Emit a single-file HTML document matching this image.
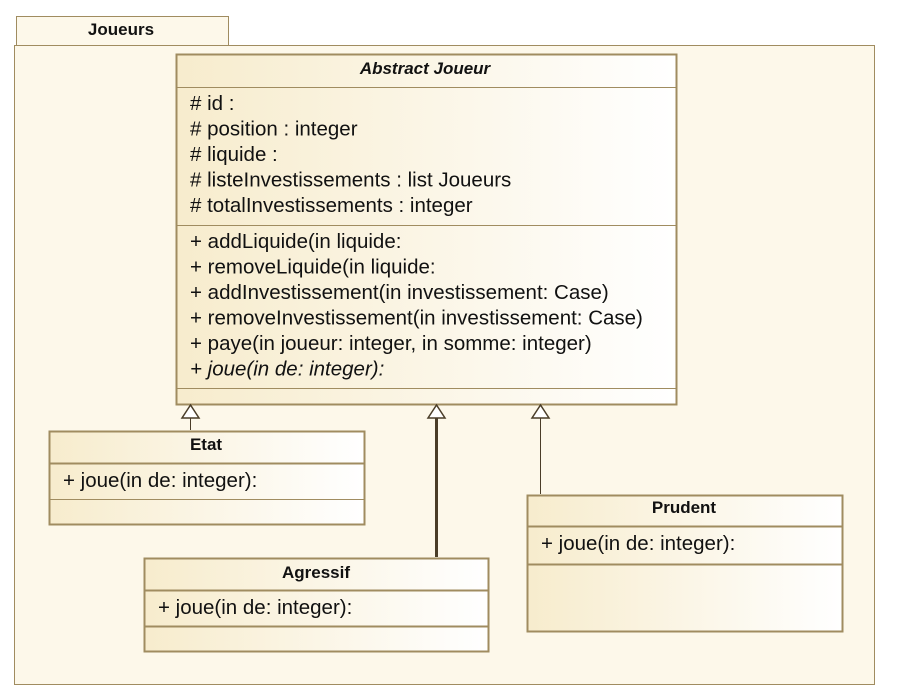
<!DOCTYPE html>
<html><head><meta charset="utf-8"><style>
html,body{margin:0;padding:0;background:#fff;}
svg{display:block;font-family:"Liberation Sans",sans-serif;}
</style></head><body>
<svg width="897" height="697" viewBox="0 0 897 697" xmlns="http://www.w3.org/2000/svg">
<defs>
<linearGradient id="g" x1="0" y1="0" x2="1" y2="0">
<stop offset="0" stop-color="#f7eccd"/><stop offset="1" stop-color="#ffffff"/>
</linearGradient>
</defs>
<rect x="16.5" y="16.5" width="212" height="29" fill="#fdf8ea" stroke="#a08c60"/>
<text x="121" y="35" font-size="17" font-weight="bold" text-anchor="middle" fill="#111">Joueurs</text>
<rect x="14.5" y="45.5" width="860" height="639" fill="#fdf8ea" stroke="#a08c60"/>

<!-- Abstract Joueur -->
<rect x="176.5" y="54.5" width="500" height="350" fill="url(#g)" stroke="#a08c60" stroke-width="2"/>
<line x1="177" y1="87.5" x2="676" y2="87.5" stroke="#a08c60"/>
<line x1="177" y1="225.5" x2="676" y2="225.5" stroke="#a08c60"/>
<line x1="177" y1="388.5" x2="676" y2="388.5" stroke="#a08c60"/>
<text x="425" y="74" font-size="17" font-weight="bold" font-style="italic" text-anchor="middle" fill="#111">Abstract Joueur</text>
<g font-size="20.5" fill="#111">
<text x="190" y="110">#  id :</text>
<text x="190" y="135.5"># position : integer</text>
<text x="190" y="161"># liquide :</text>
<text x="190" y="186.5"># listeInvestissements : list Joueurs</text>
<text x="190" y="212"># totalInvestissements : integer</text>
<text x="190" y="248">+ addLiquide(in liquide:</text>
<text x="190" y="273.5">+ removeLiquide(in liquide:</text>
<text x="190" y="299">+ addInvestissement(in investissement: Case)</text>
<text x="190" y="324.5">+ removeInvestissement(in investissement: Case)</text>
<text x="190" y="350">+ paye(in joueur: integer, in somme: integer)</text>
<text x="190" y="375.5" font-style="italic">+ joue(in de: integer):</text>
</g>

<!-- Etat -->
<rect x="49.5" y="431.5" width="315" height="93" fill="url(#g)" stroke="#a08c60" stroke-width="2"/>
<line x1="50" y1="463.5" x2="364" y2="463.5" stroke="#a08c60" stroke-width="2"/>
<line x1="50" y1="499.5" x2="364" y2="499.5" stroke="#a08c60"/>
<text x="206" y="450" font-size="17" font-weight="bold" text-anchor="middle" fill="#111">Etat</text>
<text x="63" y="487" font-size="20.5" fill="#111">+ joue(in de: integer):</text>

<!-- Agressif -->
<rect x="144.5" y="558.5" width="344" height="93" fill="url(#g)" stroke="#a08c60" stroke-width="2"/>
<line x1="145" y1="590.5" x2="488" y2="590.5" stroke="#a08c60" stroke-width="2"/>
<line x1="145" y1="626.5" x2="488" y2="626.5" stroke="#a08c60" stroke-width="2"/>
<text x="316" y="578" font-size="17" font-weight="bold" text-anchor="middle" fill="#111">Agressif</text>
<text x="158" y="614" font-size="20.5" fill="#111">+ joue(in de: integer):</text>

<!-- Prudent -->
<rect x="527.5" y="495.5" width="315" height="136" fill="url(#g)" stroke="#a08c60" stroke-width="2"/>
<line x1="528" y1="526.5" x2="842" y2="526.5" stroke="#a08c60" stroke-width="2"/>
<line x1="528" y1="564.5" x2="842" y2="564.5" stroke="#a08c60" stroke-width="2"/>
<text x="684" y="513" font-size="17" font-weight="bold" text-anchor="middle" fill="#111">Prudent</text>
<text x="541" y="550" font-size="20.5" fill="#111">+ joue(in de: integer):</text>

<!-- generalizations -->
<g stroke="#4a3d28" fill="#fff">
<line x1="190.5" y1="418" x2="190.5" y2="430" stroke-width="1"/>
<polygon points="190.5,405 182,418 199,418" stroke-width="1.5"/>
<line x1="436.5" y1="418" x2="436.5" y2="557" stroke-width="3"/>
<polygon points="436.5,405 428,418 445,418" stroke-width="1.5"/>
<line x1="540.5" y1="418" x2="540.5" y2="494" stroke-width="1"/>
<polygon points="540.5,405 532,418 549,418" stroke-width="1.5"/>
</g>
</svg>
</body></html>
